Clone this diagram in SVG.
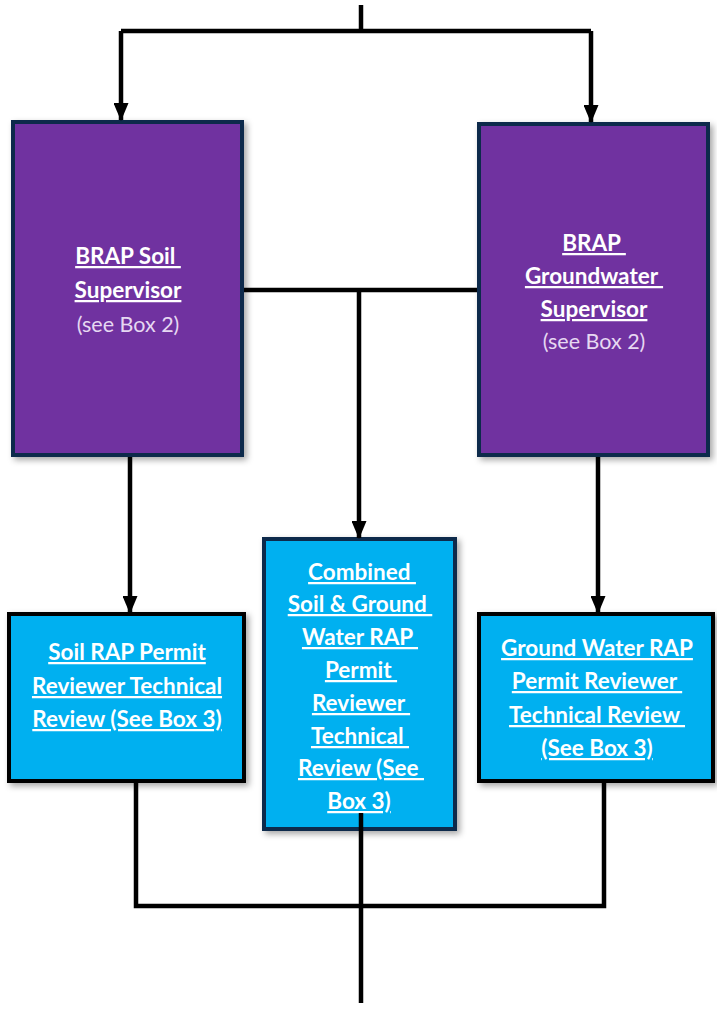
<svg xmlns="http://www.w3.org/2000/svg" width="717" height="1009" viewBox="0 0 717 1009">
<style>
.purple{fill:#7030a0;stroke:#0f2c4c;stroke-width:4}
.blue{fill:#00b0f0;stroke:#000;stroke-width:4}
.blue2{fill:#00b0f0;stroke:#0f2c4c;stroke-width:4}
.t{font-family:Lato,"Liberation Sans",sans-serif;font-size:22.5px;font-weight:bold;fill:#fff;text-anchor:middle;text-decoration:underline}
.s{font-family:Lato,"Liberation Sans",sans-serif;font-size:21.5px;fill:#e6d8f2;text-anchor:middle}
.c{fill:none;stroke:#000;stroke-width:4.5}
</style>
<defs>
<filter id="sh" x="-10%" y="-10%" width="125%" height="125%">
<feDropShadow dx="3" dy="3" stdDeviation="3" flood-color="#000" flood-opacity="0.35"/>
</filter>
<marker id="ah" markerWidth="18" markerHeight="15" refX="17" refY="7.5" orient="auto" markerUnits="userSpaceOnUse" viewBox="0 0 18 15">
<path d="M0,0 L18,7.5 L0,15 Z" fill="#000"/>
</marker>
</defs>
<g id="soil-supervisor">
<rect class="purple" x="13" y="122" width="229" height="333" filter="url(#sh)"/>
<text class="t" x="128" y="264" xml:space="preserve">BRAP Soil </text>
<text class="t" x="128" y="298">Supervisor</text>
<text class="s" x="128" y="332">(see Box 2)</text>
</g>
<g id="gw-supervisor">
<rect class="purple" x="479" y="124" width="229" height="331" filter="url(#sh)"/>
<text class="t" x="594" y="251" xml:space="preserve">BRAP </text>
<text class="t" x="594" y="284" xml:space="preserve">Groundwater </text>
<text class="t" x="594" y="317">Supervisor</text>
<text class="s" x="594" y="349">(see Box 2)</text>
</g>
<g id="soil-reviewer">
<rect class="blue" x="9" y="614" width="235" height="167" filter="url(#sh)"/>
<text class="t" x="127" y="660">Soil RAP Permit</text>
<text class="t" x="127" y="694">Reviewer Technical</text>
<text class="t" x="127" y="727">Review (See Box 3)</text>
</g>
<g id="combined-reviewer">
<rect class="blue2" x="264" y="539" width="191" height="290" filter="url(#sh)"/>
<text class="t" x="362" y="580" xml:space="preserve">Combined </text>
<text class="t" x="360" y="612" xml:space="preserve">Soil &amp; Ground </text>
<text class="t" x="360" y="645" xml:space="preserve">Water RAP </text>
<text class="t" x="361" y="678" xml:space="preserve">Permit </text>
<text class="t" x="361" y="711" xml:space="preserve">Reviewer </text>
<text class="t" x="360" y="744" xml:space="preserve">Technical </text>
<text class="t" x="361" y="776" xml:space="preserve">Review (See </text>
<text class="t" x="359" y="809">Box 3)</text>
</g>
<g id="gw-reviewer">
<rect class="blue" x="479" y="614" width="234" height="167" filter="url(#sh)"/>
<text class="t" x="597" y="656">Ground Water RAP</text>
<text class="t" x="597" y="689" xml:space="preserve">Permit Reviewer </text>
<text class="t" x="597" y="723" xml:space="preserve">Technical Review </text>
<text class="t" x="597" y="756">(See Box 3)</text>
</g>
<g id="connectors">
<path class="c" d="M361,5 V31"/>
<path class="c" d="M121,31 H591"/>
<path class="c" d="M121,31 V120" marker-end="url(#ah)"/>
<path class="c" d="M591,31 V122" marker-end="url(#ah)"/>
<path class="c" d="M244,290 H477"/>
<path class="c" d="M359,290 V538" marker-end="url(#ah)"/>
<path class="c" d="M130,457 V613" marker-end="url(#ah)"/>
<path class="c" d="M598,457 V613" marker-end="url(#ah)"/>
<path class="c" d="M136,783 V906 H604 V783"/>
<path class="c" d="M361,813 V1003"/>
</g>
</svg>
